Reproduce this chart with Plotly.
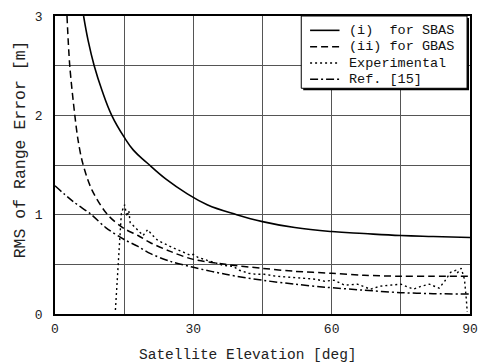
import plotly.graph_objects as go

# RMS range error versus satellite elevation
sbas_el = [6.2, 7.2, 8.5, 10.2, 12.3, 15, 17, 20, 24, 28.7, 33, 39.4, 45, 52, 60, 67, 75, 82, 90]
sbas_rms = [3.0, 2.75, 2.5, 2.25, 2.0, 1.78, 1.65, 1.52, 1.36, 1.21, 1.1, 1.0, 0.93, 0.87, 0.83, 0.81, 0.79, 0.78, 0.77]

gbas_el = [2.6, 3.2, 4.3, 5.0, 6.0, 8.0, 11.4, 15, 18, 20.6, 25, 30, 37, 45, 52, 60, 67, 75, 82, 90]
gbas_rms = [3.0, 2.5, 2.0, 1.75, 1.52, 1.25, 1.0, 0.86, 0.79, 0.72, 0.63, 0.55, 0.50, 0.46, 0.43, 0.41, 0.39, 0.38, 0.38, 0.38]

exp_el = [13.1, 13.6, 14.0, 14.4, 15.1, 15.6, 16.0, 16.3, 17.2, 18.1, 19.1, 20.1, 21.0, 22.3, 24, 25.9,
          27.5, 29.4, 30.0, 31, 33, 35, 36.5, 38.6, 40, 42, 43.6, 45.4, 48, 51, 54, 56.5, 58.5, 60.5,
          62.8, 65.6, 68.4, 70.5, 72.6, 75, 77.7, 79.5, 81.2, 83.3, 84.5, 85.8, 86.9, 87.2, 88.1, 88.8,
          89.2, 89.4]
exp_rms = [0.04, 0.4, 0.77, 1.02, 1.10, 0.98, 1.04, 0.92, 0.88, 0.84, 0.79, 0.85, 0.80, 0.74, 0.70, 0.66,
           0.63, 0.59, 0.60, 0.57, 0.54, 0.51, 0.49, 0.48, 0.44, 0.41, 0.40, 0.40, 0.38, 0.37, 0.36, 0.35,
           0.33, 0.34, 0.29, 0.30, 0.25, 0.28, 0.29, 0.30, 0.25, 0.28, 0.30, 0.26, 0.33, 0.42, 0.44, 0.41,
           0.46, 0.35, 0.15, 0.02]

ref_el = [0, 4, 7.9, 11, 15, 18, 20.6, 25, 30, 37, 45, 52, 58.5, 67, 75, 82, 90]
ref_rms = [1.29, 1.13, 1.0, 0.87, 0.75, 0.68, 0.61, 0.53, 0.47, 0.40, 0.34, 0.30, 0.27, 0.24, 0.215, 0.205, 0.20]

series_names = ["(i)\u00a0\u00a0for SBAS", "(ii) for GBAS", "Experimental", "Ref. [15]"]
series_dash = ["solid", "7px,4px", "2px,3px", "8px,3px,2px,3px"]

x_ticks = [0, 15, 30, 45, 60, 75, 90]
x_labels = ["0", "", "30", "", "60", "", "90"]
y_ticks = [0, 0.5, 1, 1.5, 2, 2.5, 3]
y_labels = ["0", "", "1", "", "2", "", "3"]

FONT = "Liberation Mono, Courier New, monospace"

# plot-area geometry in pixels, used to place the hand-drawn legend
W, H = 488, 364
ML, MR, MT, MB = 55, 10, 13, 50
PW, PH = W - ML - MR, H - MT - MB


def px(xpix):
    return (xpix - ML) / PW


def py(ypix):
    return (H - MB - ypix) / PH


fig = go.Figure()
fig.add_trace(go.Scatter(x=sbas_el, y=sbas_rms, mode="lines", name=series_names[0],
                         line=dict(color="black", width=1.6, dash=series_dash[0], shape="spline", smoothing=1.2)))
fig.add_trace(go.Scatter(x=gbas_el, y=gbas_rms, mode="lines", name=series_names[1],
                         line=dict(color="black", width=1.5, dash=series_dash[1], shape="spline", smoothing=0.9)))
fig.add_trace(go.Scatter(x=exp_el, y=exp_rms, mode="lines", name=series_names[2],
                         line=dict(color="black", width=1.4, dash=series_dash[2])))
fig.add_trace(go.Scatter(x=ref_el, y=ref_rms, mode="lines", name=series_names[3],
                         line=dict(color="black", width=1.5, dash=series_dash[3], shape="spline", smoothing=0.9)))

axis_common = dict(showgrid=True, gridcolor="#555", gridwidth=1, zeroline=False,
                   showline=True, linecolor="black", linewidth=1.6, mirror=True,
                   ticks="", tickfont=dict(family=FONT, size=13, color="#222"))

fig.update_xaxes(range=[0, 90], tickmode="array", tickvals=x_ticks, ticktext=x_labels,
                 ticklabelstandoff=2, **axis_common)
fig.update_yaxes(range=[0, 3], tickmode="array", tickvals=y_ticks, ticktext=y_labels,
                 ticklabelstandoff=8, **axis_common)

fig.add_annotation(text="Satellite Elevation [deg]", xref="paper", yref="paper",
                   x=px(252), y=py(355), xanchor="center", yanchor="middle",
                   showarrow=False, font=dict(family=FONT, size=14.5, color="#222"))
fig.add_annotation(text="RMS of Range Error [m]", xref="paper", yref="paper",
                   x=px(20), y=py(148), xanchor="center", yanchor="middle",
                   textangle=-90, showarrow=False, font=dict(family=FONT, size=16.5, color="#222"))

# legend box with a drop shadow
box_l, box_r, box_t, box_b = 306, 475, 13, 86
fig.add_shape(type="rect", xref="paper", yref="paper",
              x0=px(box_l + 2), x1=px(box_r + 2), y0=py(box_t + 2), y1=py(box_b + 2),
              fillcolor="black", line=dict(width=0), layer="above")
fig.add_shape(type="rect", xref="paper", yref="paper",
              x0=px(box_l), x1=px(box_r), y0=py(box_t), y1=py(box_b),
              fillcolor="white", line=dict(color="black", width=1), layer="above")
row_y = [27.5, 44, 60.5, 77]
widths = [1.6, 1.5, 1.4, 1.5]
for name, dash, yy, lw in zip(series_names, series_dash, row_y, widths):
    fig.add_shape(type="line", xref="paper", yref="paper",
                  x0=px(315), x1=px(345), y0=py(yy), y1=py(yy),
                  line=dict(color="black", width=lw, dash=dash), layer="above")
    fig.add_annotation(text=name, xref="paper", yref="paper", x=px(354), y=py(yy),
                       xanchor="left", yanchor="middle", showarrow=False, borderpad=0,
                       font=dict(family=FONT, size=13.5, color="#111"))

fig.update_layout(
    width=W, height=H,
    margin=dict(l=ML, r=MR, t=MT, b=MB),
    paper_bgcolor="white", plot_bgcolor="white",
    showlegend=False,
)

fig.write_html("out.html")
